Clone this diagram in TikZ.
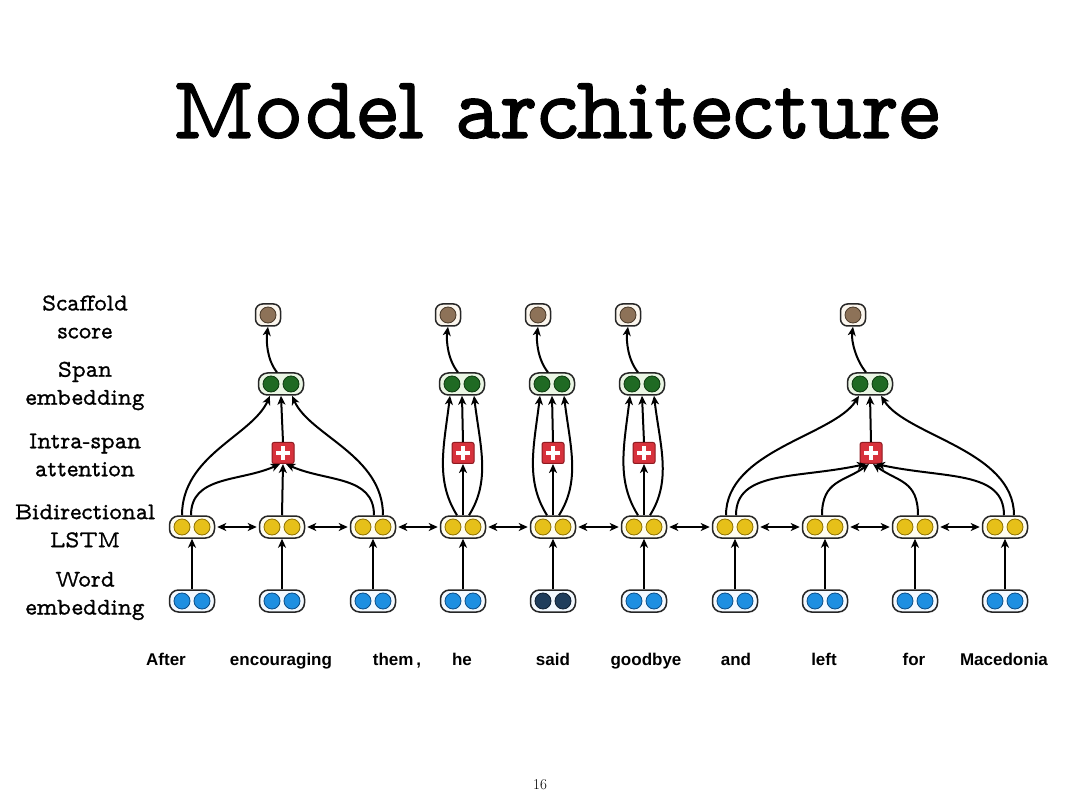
\documentclass[tikz,border=0pt]{standalone}
\usepackage{fontspec}
\newfontfamily\wordfont{Liberation Sans}
\newfontfamily\tw{lmmonoprop10-regular.otf}[FakeBold=1]
\newfontfamily\twt{lmmonoprop10-regular.otf}[FakeBold=1.3]
\usetikzlibrary{arrows.meta}
\definecolor{yel}{HTML}{E6C019}\definecolor{yelD}{HTML}{8C7000}
\definecolor{blu}{HTML}{1E8FE1}\definecolor{bluD}{HTML}{0B4D86}
\definecolor{nav}{HTML}{1F3D5C}\definecolor{navD}{HTML}{0E1E30}
\definecolor{grn}{HTML}{1F6A23}\definecolor{grnD}{HTML}{0D3A10}
\definecolor{brn}{HTML}{8D7258}\definecolor{brnD}{HTML}{4A3A2A}
\definecolor{red1}{HTML}{D7323C}\definecolor{red1D}{HTML}{8E1A20}
\definecolor{lstmF}{HTML}{FFFDF0}\definecolor{wordF}{HTML}{F3F9FF}
\definecolor{spanF}{HTML}{EAF6E4}\definecolor{scoreF}{HTML}{FBF6EE}
\tikzset{
  pill/.style={draw=black!85, line width=1.5pt, rounded corners=9pt, minimum width=45pt, minimum height=22pt, inner sep=0pt},
  scorebox/.style={draw=black!85, line width=1.5pt, rounded corners=7pt, minimum width=25pt, minimum height=22pt, inner sep=0pt, fill=scoreF},
  plusbox/.style={draw=red1D, line width=1pt, rounded corners=2pt, minimum width=22pt, minimum height=21pt, inner sep=0pt, fill=red1},
  arr/.style={-{Stealth[length=9pt,width=8pt,inset=2.5pt]}, line width=2pt},
  darr/.style={{Stealth[length=9pt,width=8pt,inset=2.5pt]}-{Stealth[length=9pt,width=8pt,inset=2.5pt]}, line width=2pt, shorten <=2pt, shorten >=2pt},
  lbl/.style={font=\fontsize{24}{28}\selectfont\tw, align=center},
  wlbl/.style={font=\fontsize{17}{20}\selectfont\wordfont\bfseries, anchor=base},
}
\newcommand\twodot[5]{%
  \node[pill, fill=#4] (#1) at (#2,#3) {};
  \draw[#5D, line width=0.8pt, fill=#5] ([xshift=-10pt]#1.center) circle (8pt);
  \draw[#5D, line width=0.8pt, fill=#5] ([xshift=10pt]#1.center) circle (8pt);
}
\newcommand\scorenode[3]{%
  \node[scorebox] (#1) at (#2,#3) {};
  \draw[brnD, line width=0.8pt, fill=brn] (#1.center) circle (8pt);
}
\newcommand\plusnode[3]{%
  \node[plusbox] (#1) at (#2,#3) {};
  \fill[white] ([shift={(-7pt,-2.3pt)}]#1.center) rectangle ([shift={(7pt,2.3pt)}]#1.center);
  \fill[white] ([shift={(-2.3pt,-7pt)}]#1.center) rectangle ([shift={(2.3pt,7pt)}]#1.center);
}
\begin{document}
\begin{tikzpicture}[x=1pt,y=-1pt]
\useasboundingbox (0,0) rectangle (1080,810);
\fill[white] (0,0) rectangle (1080,810);
% title
\node[font=\fontsize{82}{82}\selectfont\twt, inner sep=0pt] (title) at (556,111) {\resizebox{768pt}{!}{Model architecture}};
% left labels
\node[lbl] (t1) at (85,317) {Scaffold\\score};
\node[lbl] (t2) at (85,386) {Span\\embedding};
\node[lbl] (t3) at (85,455) {Intra-span\\attention};
\node[lbl] (t4) at (85,526) {Bidirectional\\LSTM};
\node[lbl] (t5) at (85,596) {Word\\embedding};
% word embeddings
\twodot{W1}{192}{601}{wordF}{blu}
\twodot{W2}{282}{601}{wordF}{blu}
\twodot{W3}{373}{601}{wordF}{blu}
\twodot{W4}{463}{601}{wordF}{blu}
\twodot{W5}{553}{601}{wordF}{nav}
\twodot{W6}{644}{601}{wordF}{blu}
\twodot{W7}{735}{601}{wordF}{blu}
\twodot{W8}{825}{601}{wordF}{blu}
\twodot{W9}{915}{601}{wordF}{blu}
\twodot{W10}{1005}{601}{wordF}{blu}
% LSTM
\twodot{L1}{192}{527}{lstmF}{yel}
\twodot{L2}{282}{527}{lstmF}{yel}
\twodot{L3}{373}{527}{lstmF}{yel}
\twodot{L4}{463}{527}{lstmF}{yel}
\twodot{L5}{553}{527}{lstmF}{yel}
\twodot{L6}{644}{527}{lstmF}{yel}
\twodot{L7}{735}{527}{lstmF}{yel}
\twodot{L8}{825}{527}{lstmF}{yel}
\twodot{L9}{915}{527}{lstmF}{yel}
\twodot{L10}{1005}{527}{lstmF}{yel}
% plus
\plusnode{P1}{283}{453}
\plusnode{P2}{463}{453}
\plusnode{P3}{553}{453}
\plusnode{P4}{644}{453}
\plusnode{P5}{871}{453}
% span
\twodot{S1}{281}{384}{spanF}{grn}
\twodot{S2}{462}{384}{spanF}{grn}
\twodot{S3}{552}{384}{spanF}{grn}
\twodot{S4}{642}{384}{spanF}{grn}
\twodot{S5}{870}{384}{spanF}{grn}
% score
\scorenode{C1}{268}{315}
\scorenode{C2}{448}{315}
\scorenode{C3}{538}{315}
\scorenode{C4}{628}{315}
\scorenode{C5}{853}{315}
% words
\node[wlbl] (w1) at (166,665) {After};
\node[wlbl] (w2) at (281,665) {encouraging};
\node[wlbl] (w3) at (397,665) {them\,,};
\node[wlbl] (w4) at (462,665) {he};
\node[wlbl] (w5) at (553,665) {said};
\node[wlbl] (w6) at (646,665) {goodbye};
\node[wlbl] (w7) at (736,665) {and};
\node[wlbl] (w8) at (824,665) {left};
\node[wlbl] (w9) at (914,665) {for};
\node[wlbl] (w10) at (1004,665) {Macedonia};
\node[font=\fontsize{15}{15}\selectfont] (pg) at (540,785) {16};
% word -> lstm
\foreach \i in {1,...,10} \draw[arr] (W\i.north) -- (L\i.south);
% bidirectional
\foreach \i/\j in {1/2,2/3,3/4,4/5,5/6,6/7,7/8,8/9,9/10} \draw[darr] (L\i.east) -- (L\j.west);
% span 1
\draw[arr] ([xshift=-10pt]L1.north) .. controls +(0,-60) and +(-18,40) .. ([xshift=-11pt]S1.south);
\draw[arr] ([xshift=-1pt]L1.north) .. controls +(0,-40) and +(-40,18) .. ([xshift=-3pt]P1.south);
\draw[arr] (L2.north) -- (P1.south);
\draw[arr] ([xshift=1pt]L3.north) .. controls +(0,-40) and +(40,18) .. ([xshift=3pt]P1.south);
\draw[arr] ([xshift=10pt]L3.north) .. controls +(0,-60) and +(18,40) .. ([xshift=11pt]S1.south);
% single spans
\foreach \i/\p/\s in {4/2/2,5/3/3,6/4/4}{
  \draw[arr] (L\i.north) -- (P\p.south);
  \draw[arr] ([xshift=-6pt]L\i.north) .. controls +(-22,-35) and +(-6,50) .. ([xshift=-12pt]S\s.south);
  \draw[arr] ([xshift=6pt]L\i.north) .. controls +(22,-35) and +(6,50) .. ([xshift=12pt]S\s.south);
}
% span 5
\draw[arr] ([xshift=-9pt]L7.north) .. controls +(0,-65) and +(-25,40) .. ([xshift=-11pt]S5.south);
\draw[arr] ([xshift=1pt]L7.north) .. controls +(0,-45) and +(-70,15) .. ([xshift=-5pt]P5.south);
\draw[arr] ([xshift=-3pt]L8.north) .. controls +(0,-35) and +(-25,18) .. ([xshift=-2pt]P5.south);
\draw[arr] ([xshift=3pt]L9.north) .. controls +(0,-35) and +(25,18) .. ([xshift=2pt]P5.south);
\draw[arr] ([xshift=-1pt]L10.north) .. controls +(0,-45) and +(70,15) .. ([xshift=5pt]P5.south);
\draw[arr] ([xshift=9pt]L10.north) .. controls +(0,-65) and +(25,40) .. ([xshift=11pt]S5.south);
% plus -> span, span -> score
\foreach \i in {1,...,5}{
  \draw[arr] (P\i.north) -- (S\i.south);
  \draw[arr] ([xshift=-4pt]S\i.north) .. controls +(-10,-12) and +(-2,14) .. (C\i.south);
}
\end{tikzpicture}
\end{document}
